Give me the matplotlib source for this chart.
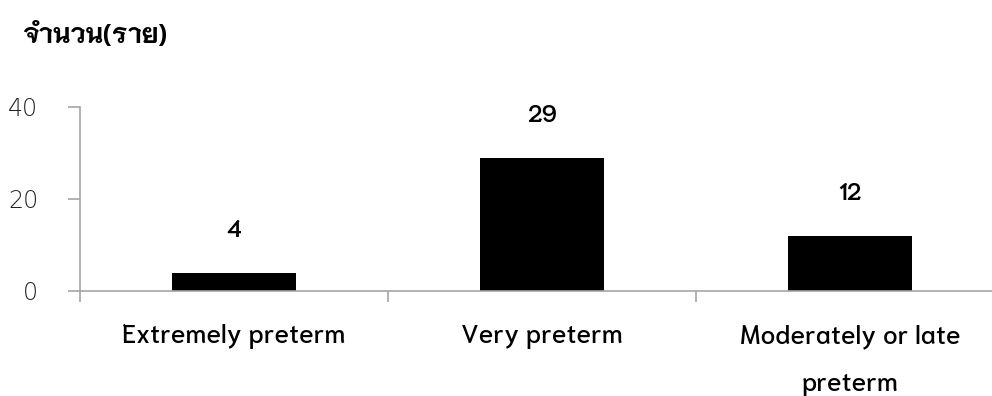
import matplotlib
matplotlib.use("Agg")
import matplotlib.pyplot as plt

categories = ["Extremely preterm", "Very preterm", "Moderately or late\npreterm"]
counts = [4, 29, 12]
y_ticks = [0, 20, 40]
y_label = "จำนวน(ราย)"

axis_gray = "#A6A6A6"
font = ["Niramit", "DejaVu Sans"]

fig = plt.figure(figsize=(9.92, 3.96), dpi=100)
ax = fig.add_axes([80 / 992, 105 / 396, 924 / 992, 184 / 396])

x = list(range(len(categories)))
ax.bar(x, counts, width=0.4, color="black")

ax.set_xlim(-0.5, len(categories) - 0.5)
ax.set_ylim(0, 40)

for side in ["top", "right"]:
    ax.spines[side].set_visible(False)
for side in ["left", "bottom"]:
    ax.spines[side].set_color(axis_gray)
    ax.spines[side].set_linewidth(1.2)

# value axis
ax.set_yticks(y_ticks)
ax.set_yticklabels([str(v) for v in y_ticks], family="DejaVu Sans",
                   fontsize=17, fontweight="light", color="#222222")
ax.tick_params(axis="y", length=9, width=1.2, color=axis_gray, pad=21)

# category boundaries as major ticks, names as minor tick labels
ax.set_xticks([i - 0.5 for i in range(len(categories) + 1)])
ax.set_xticklabels([])
ax.tick_params(axis="x", which="major", length=8, width=1.2, color=axis_gray)
ax.set_xticks(x, minor=True)
ax.set_xticklabels(categories, minor=True, family=font, fontsize=19,
                   fontweight="medium", color="black", linespacing=2.2,
                   va="top")
ax.tick_params(axis="x", which="minor", length=0, pad=24)

for xi, v in zip(x, counts):
    ax.annotate(str(v), (xi, v), xytext=(0, 30.5), textcoords="offset points",
                ha="center", va="center", family=font, fontsize=17,
                fontweight="semibold")

fig.text(22 / 992, 1 - 36 / 396, y_label, family=font, fontsize=19,
         fontweight="bold", va="center", ha="left")

fig.savefig("out.png")
